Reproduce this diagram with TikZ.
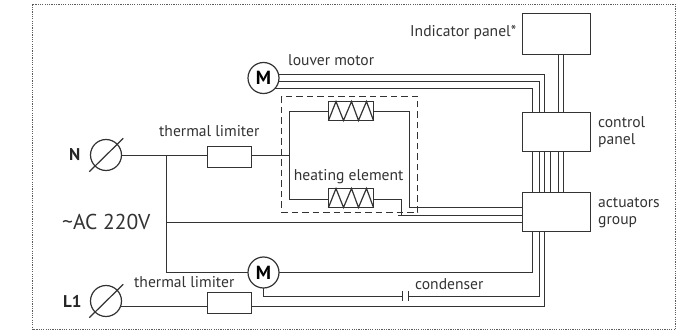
\documentclass[tikz,border=0pt]{standalone}
\usepackage{fontspec}
\setmainfont{PT Sans}
\usetikzlibrary{backgrounds,calc}
\definecolor{ink}{HTML}{333333}
\tikzset{
  wire/.style={draw=ink,line width=1.2pt},
  boxn/.style={draw=ink,line width=1.2pt,fill=white,minimum width=#1,inner sep=0pt,outer sep=0pt},
  panel/.style={boxn=68pt,minimum height=39pt,anchor=north west},
  limiter/.style={boxn=44pt,minimum height=21pt},
  coil/.style={boxn=45pt,minimum height=19pt},
  disc/.style={circle,draw=ink,line width=1.2pt,fill=white,minimum size=31pt,inner sep=0pt,outer sep=0pt},
  lbl/.style={text=ink,font=\fontsize{15.6}{17}\selectfont,inner sep=0pt,anchor=west},
  blbl/.style={text=black!85,font=\fontsize{17}{18}\selectfont\bfseries,inner sep=0pt},
}
\begin{document}
\begin{tikzpicture}[x=1pt,y=-1pt]
\useasboundingbox (0,0) rectangle (680,331);
\draw[draw=ink!80,line width=1.2pt,dash pattern=on 1.2pt off 1.1pt] (32.5,4.5) rectangle (675.5,329.5);
% nodes
\node[panel,minimum height=41pt] (ind) at (522.5,13.5) {};
\node[panel] (ctrl) at (522.5,112.5) {};
\node[panel] (act) at (522.5,192.5) {};
\node[disc] (m1) at (263.5,78) {\fontsize{19}{19}\selectfont\bfseries M};
\node[disc] (m2) at (263.5,272.5) {\fontsize{19}{19}\selectfont\bfseries M};
\node[disc] (n) at (106,155) {};
\node[disc] (l1) at (106,301) {};
\node[limiter] (th1) at (229.5,157) {};
\node[limiter] (th2) at (229.5,303) {};
\node[coil] (h1) at (351,111) {};
\node[coil] (h2) at (351,198) {};
% bus coordinates
\coordinate (b1) at (532.5,0);
\coordinate (b2) at (539.5,0);
\coordinate (b3) at (544.5,0);
\coordinate (b4) at (550.5,0);
\coordinate (b5) at (558.5,0);
\coordinate (b6) at (563.5,0);
\coordinate (lt) at (289.5,111.5);
\coordinate (lb) at (289.5,199.5);
\coordinate (rt) at (409.5,111.5);
\coordinate (jn) at (166.5,155.5);
\coordinate (tap) at (401.5,199.5);
\coordinate (c1) at (402.5,296.5);
\coordinate (c2) at (408.5,296.5);
\begin{scope}[on background layer]
  % louver motor to control panel
  \draw[wire] (m1.center |- 0,74.5) -- (b3 |- 0,74.5) -- (b3 |- ctrl.north);
  \draw[wire] (m1.center |- 0,81.5) -- (b2 |- 0,81.5) -- (b2 |- ctrl.north);
  \draw[wire] (m1.center |- 0,88.5) -- (b1 |- 0,88.5) -- (b1 |- ctrl.north);
  % indicator to control
  \draw[wire] (b5 |- ind.south) -- (b5 |- ctrl.north);
  \draw[wire] (b6 |- ind.south) -- (b6 |- ctrl.north);
  % control to actuators
  \foreach \b in {b1,b2,b3,b4,b5,b6}
    \draw[wire] (\b |- ctrl.south) -- (\b |- act.north);
  % N side
  \draw[wire] (n.center |- jn) -- (th1.west |- jn);
  \draw[wire] (th1.east |- jn) -- (lt |- jn);
  \draw[wire] (jn) -- (jn |- m2.center) -- (m2.center);
  \draw[wire] (jn |- 0,222.5) -- (act.west |- 0,222.5);
  % heater loop
  \draw[wire] (h1.west |- lt) -- (lt) -- (lb) -- (h2.west |- lb);
  \draw[wire] (h1.east |- rt) -- (rt) -- (rt |- 0,207.5) -- (act.west |- 0,207.5);
  \draw[wire] (h2.east |- tap) -- (tap) -- (tap |- 0,215.5);
  \draw[wire] (398,215.5) -- (act.west |- 0,215.5);
  % motor 2
  \draw[wire] (m2.center) -- (b1 |- m2.center) -- (b1 |- act.south);
  \draw[wire] (m2.center) -- (m2.center |- c1) -- (c1);
  \draw[wire] (c2) -- (b2 |- c2) -- (b2 |- act.south);
  \draw[wire] (c1 |- 0,291) -- (c1 |- 0,301);
  \draw[wire] (c2 |- 0,291) -- (c2 |- 0,301);
  % L1
  \draw[wire] (l1.center |- 0,306.5) -- (th2.west |- 0,306.5);
  \draw[wire] (th2.east |- 0,306.5) -- (b3 |- 0,306.5) -- (b3 |- act.south);
\end{scope}
% dashed enclosure
\draw[draw=ink,line width=1.2pt,dash pattern=on 6.5pt off 4pt] (281.5,96.5) rectangle (417.5,212.5);
% switch slashes
\coordinate (ns) at ($(n.center)+(-16.7,16.7)$);
\coordinate (ne) at ($(n.center)+(17.3,-16.7)$);
\coordinate (ls) at ($(l1.center)+(-16.7,16.7)$);
\coordinate (le) at ($(l1.center)+(17.3,-16.7)$);
\draw[wire] (ns) -- (ne);
\draw[wire] (ls) -- (le);
% coil zigzags
\foreach \h in {h1,h2}{
  \draw[wire,line join=miter] ($(\h.south west)$) -- ($(\h.north west)+(7.5,0)$) -- ($(\h.south west)+(15,0)$) -- ($(\h.north west)+(23,0)$) -- ($(\h.south west)+(30,0)$) -- ($(\h.north west)+(38,0)$) -- ($(\h.south east)$);
}
% labels
\node[lbl] (t1) at (288,60.5) {louver motor};
\node[lbl] (t2) at (410,32.5) {Indicator panel*};
\node[lbl] (t3) at (598,122) {control};
\node[lbl] (t4) at (598,141) {panel};
\node[lbl] (t5) at (598,203) {actuators};
\node[lbl] (t6) at (598,222) {group};
\node[lbl] (t7) at (293.7,177) {heating element};
\node[lbl] (t8) at (159,131) {thermal limiter};
\node[lbl] (t9) at (134,282) {thermal limiter};
\node[lbl] (t10) at (415,284) {condenser};
\node[lbl,font=\fontsize{21.5}{23}\selectfont] (t11) at (62,222) {\textasciitilde AC 220V};
\node[blbl,anchor=west] (t12) at (69,155) {N};
\node[blbl,anchor=west] (t13) at (63,301) {L1};
\end{tikzpicture}
\end{document}
